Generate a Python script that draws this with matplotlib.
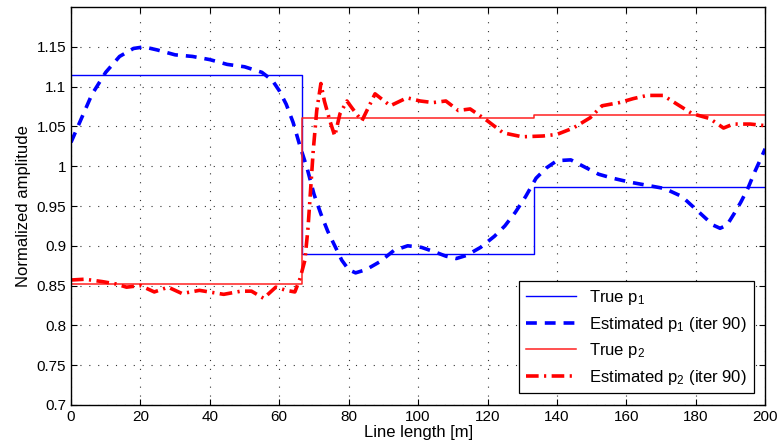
import numpy as np
from matplotlib import pyplot as plt

plt.rcParams['font.family'] = ['Liberation Sans', 'DejaVu Sans']
plt.rcParams['mathtext.default'] = 'regular'

# section boundaries along the line [m]
x_bounds = [0, 66.67, 133.33, 200]
true_p1 = [1.115, 0.890, 0.974]
true_p2 = [0.852, 1.060, 1.065]

# estimated p1 (iter 90)
x_est1 = [0, 3, 6, 10, 14, 18, 21, 25, 30, 35, 40, 45, 50, 55, 58, 60, 62, 64, 66, 68,
          70, 72, 74, 76, 78, 80, 82, 85, 89, 93, 97, 101, 105, 108, 111, 114, 118,
          122, 125, 128, 131, 134, 137, 140, 144, 148, 152, 156, 161, 166, 171, 176,
          179, 182, 185, 187, 189, 191, 193, 195, 197, 199, 200]
est_p1 = [1.030, 1.060, 1.090, 1.118, 1.138, 1.148, 1.150, 1.146, 1.140, 1.138, 1.134,
          1.128, 1.125, 1.118, 1.108, 1.095, 1.078, 1.055, 1.025, 0.998,
          0.965, 0.940, 0.918, 0.900, 0.882, 0.870, 0.866, 0.870, 0.880, 0.894, 0.900,
          0.898, 0.892, 0.887, 0.884, 0.888, 0.898, 0.912, 0.925, 0.942, 0.962, 0.985,
          0.998, 1.007, 1.008, 0.999, 0.990, 0.985, 0.980, 0.976, 0.972, 0.962,
          0.950, 0.938, 0.926, 0.922, 0.926, 0.940, 0.955, 0.972, 0.993, 1.012, 1.022]

# estimated p2 (iter 90)
x_est2 = [0, 4, 9, 13, 16, 20, 24, 28, 32, 37, 44, 49, 52, 55.5, 59, 62, 64.5, 66, 67.4,
          68.3, 69.8, 70.8, 72, 73, 74.6, 76, 77.5, 79.5, 81, 83.8, 87.6, 92, 96.8,
          100.6, 104.3, 108, 111.6, 115, 120, 124.5, 130, 136, 140, 144.7, 149.6, 153,
          158, 162, 166, 170.6, 174.6, 179, 184, 188, 190.8, 195.7, 200]
est_p2 = [0.857, 0.858, 0.855, 0.852, 0.848, 0.850, 0.842, 0.848, 0.840, 0.844, 0.839,
          0.843, 0.843, 0.834, 0.848, 0.844, 0.842, 0.859, 0.882,
          0.923, 1.020, 1.070, 1.104, 1.082, 1.057, 1.038, 1.066, 1.082, 1.073, 1.057,
          1.091, 1.076, 1.086, 1.082, 1.080, 1.082, 1.070, 1.072, 1.057, 1.042, 1.037,
          1.038, 1.040, 1.048, 1.061, 1.076, 1.080, 1.085, 1.089, 1.089, 1.078, 1.066,
          1.060, 1.048, 1.053, 1.053, 1.051]

fig = plt.figure(figsize=(7.8, 4.44), dpi=100)
ax = fig.add_axes([0.091, 0.088, 0.890, 0.896])

ax.step(x_bounds, true_p1 + [true_p1[-1]], where='post', color='#0000ff', lw=1.0,
        label='True p$_1$')
ax.plot(x_est1, est_p1, color='#0000ff', lw=2.6, linestyle=(0, (3, 2.2)),
        label='Estimated p$_1$ (iter 90)')
ax.step(x_bounds, true_p2 + [true_p2[-1]], where='post', color='#ff2020', lw=1.1,
        label='True p$_2$')
ax.plot(x_est2, est_p2, color='#ff0000', lw=2.6, linestyle=(0, (3.5, 1.5, 0.6, 1.5)),
        label='Estimated p$_2$ (iter 90)')

ax.set_xlim(0, 200)
ax.set_ylim(0.7, 1.2)
ax.set_xticks(np.arange(0, 201, 20))
ax.set_yticks([0.7, 0.75, 0.8, 0.85, 0.9, 0.95, 1.0, 1.05, 1.1, 1.15])
ax.set_yticklabels(['0.7', '0.75', '0.8', '0.85', '0.9', '0.95', '1', '1.05', '1.1', '1.15'])
ax.tick_params(direction='in', top=True, right=True, labelsize=11, length=4)
ax.grid(True, color='#333333', linestyle=(0, (1, 7)), lw=0.8)
for s in ax.spines.values():
    s.set_linewidth(1.0)

ax.set_xlabel('Line length [m]', fontsize=12, labelpad=1)
ax.set_ylabel('Normalized amplitude', fontsize=12, labelpad=4)

leg = ax.legend(loc='lower right', fontsize=12, fancybox=False, framealpha=1,
                edgecolor='black', borderaxespad=0.7, handlelength=3.0,
                labelspacing=0.45, borderpad=0.4)
leg.get_frame().set_linewidth(0.9)

fig.savefig('out.png', dpi=100)
